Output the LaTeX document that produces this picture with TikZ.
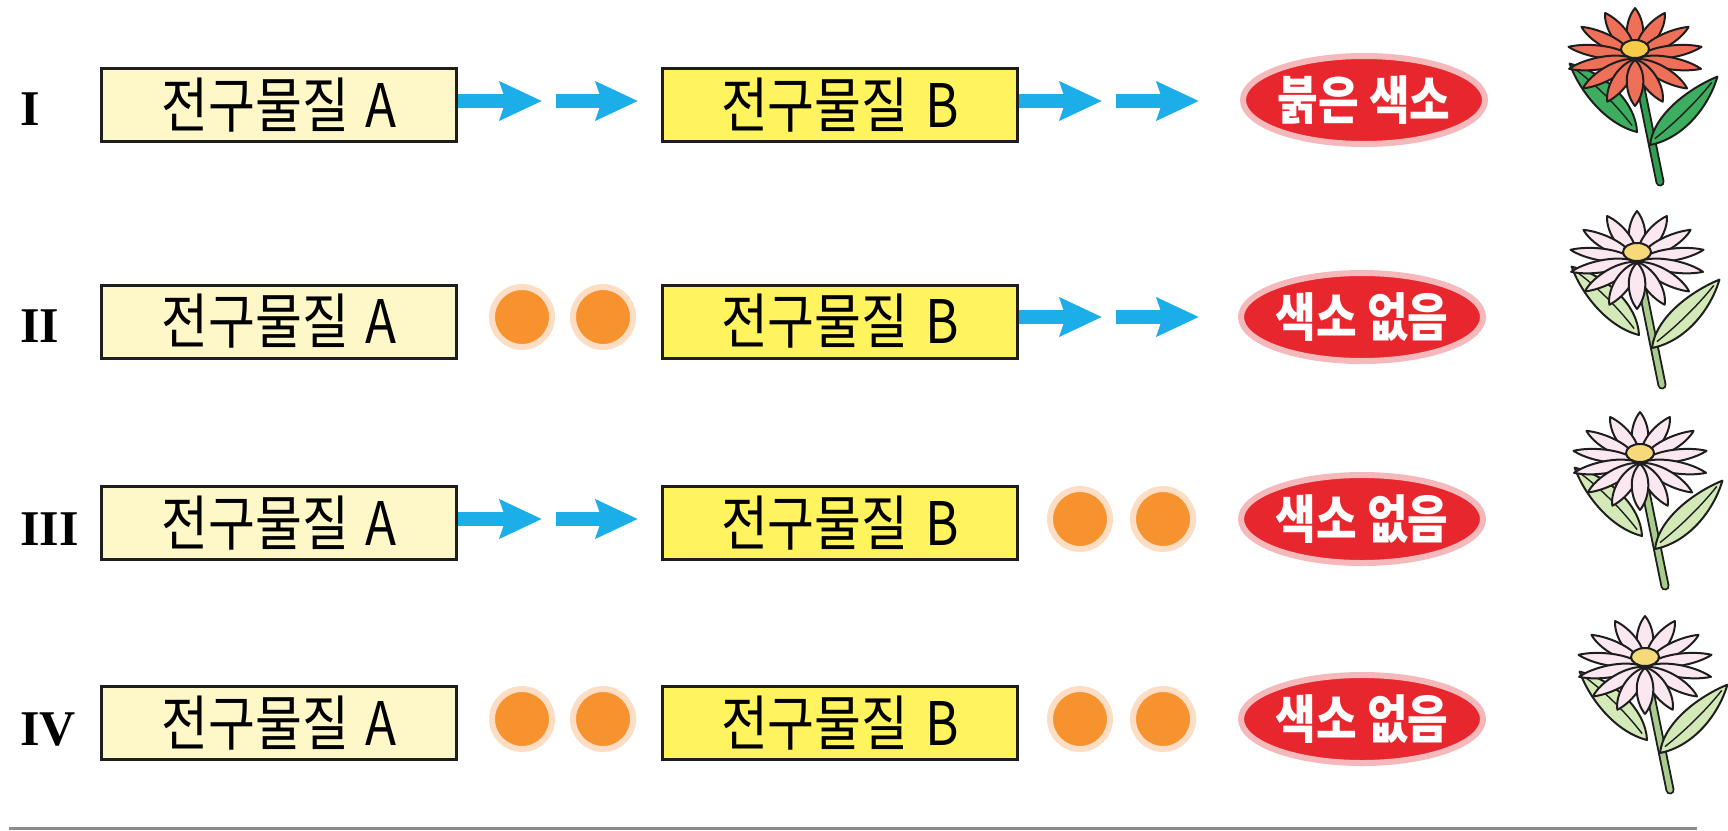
\documentclass[tikz,border=0pt]{standalone}
\usepackage{fontspec}
\setmainfont{Liberation Serif}
\newfontfamily\kr[FakeStretch=0.85]{Noto Sans CJK KR}
\usetikzlibrary{arrows.meta,shapes.geometric}

\definecolor{paleA}{HTML}{FEF8C8}
\definecolor{yelB}{HTML}{FFF35E}
\definecolor{pigred}{HTML}{E8262D}
\definecolor{pighalo}{HTML}{F6B9BB}
\definecolor{flowblue}{HTML}{1BAEE9}
\definecolor{blockor}{HTML}{F7932F}
\definecolor{blockhalo}{HTML}{FDDEC4}
\definecolor{inkline}{HTML}{1E1E1E}
% red daisy
\definecolor{redpetal}{HTML}{EF7058}
\definecolor{redheart}{HTML}{F7CB4A}
\definecolor{redleaf}{HTML}{3DAE5F}
\definecolor{redstem}{HTML}{2F9E4E}
% colourless daisy
\definecolor{palepetal}{HTML}{FAE7F0}
\definecolor{paleheart}{HTML}{F6DA7A}
\definecolor{paleleaf}{HTML}{D4E9B8}
\definecolor{palestem}{HTML}{A9CB8E}

\newcommand\gap{\hspace{0.28em}}

\tikzset{
  precbox/.style={draw=inkline, line width=1.5pt, minimum width=177.5pt,
    minimum height=36.5pt, inner sep=0pt, font=\kr\fontsize{30}{34}\selectfont},
  precA/.style={precbox, fill=paleA},
  precB/.style={precbox, fill=yelB},
  pigment/.style={ellipse, fill=pigred, draw=pighalo, line width=3pt,
    minimum width=121pt, minimum height=44pt, inner sep=0pt,
    label={[pigtext]center:#1}},
  pigtext/.style={text=white, inner sep=0pt,
    font=\kr\bfseries\fontsize{26}{30}\selectfont},
  blocker/.style={circle, fill=blockor, draw=blockhalo, line width=3pt,
    minimum size=30pt, inner sep=0pt},
  flowarrow/.style={draw=flowblue, line width=7pt,
    -{Stealth[length=21pt,width=19pt,inset=3pt]}},
  numeral/.style={anchor=base west, inner sep=0pt,
    font=\bfseries\fontsize{25}{28}\selectfont},
  petalline/.style={draw=inkline, line width=1pt, line join=round},
}

% a daisy: #1,#2 heart position, #3 petal, #4 heart, #5 leaf, #6 stem colour
\newcommand\drawdaisy[6]{%
  \begin{scope}[shift={(#1,#2)}]
    % stem
    \draw[inkline, line width=4.5pt, line cap=round] (0,10) -- (25,133);
    \draw[#6, line width=2.6pt, line cap=round] (0,10) -- (25,133);
    % left leaf
    \begin{scope}[shift={(2,83)}, rotate=134.6]
      \filldraw[petalline, fill=#5] (0,0) .. controls (22,20) and (65,19) .. (96,0)
        .. controls (70,-12) and (28,-17) .. (0,0) -- cycle;
      \draw[inkline, line width=0.7pt] (8,1) .. controls (40,5) and (70,3) .. (88,0);
    \end{scope}
    % right leaf
    \begin{scope}[shift={(15,96)}, rotate=45.4]
      \filldraw[petalline, fill=#5] (0,0) .. controls (28,19) and (68,15) .. (96,0)
        .. controls (68,-12) and (24,-19) .. (0,0) -- cycle;
      \draw[inkline, line width=0.7pt] (8,-1) .. controls (40,3) and (70,2) .. (88,0);
    \end{scope}
    % petals, back row first
    \foreach \a in {90,64,116,38,142,12,168,346,194,320,220,294,246,270}{
      \begin{scope}[shift={(0,8)}, yscale=0.72, rotate=\a]
        \filldraw[petalline, fill=#3] (4,0) .. controls (20,12.5) and (52,9.5) .. (68,0)
          .. controls (52,-9.5) and (20,-12.5) .. (4,0) -- cycle;
      \end{scope}
    }
    % heart
    \filldraw[petalline, fill=#4] (0,0) ellipse [x radius=14, y radius=9];
  \end{scope}%
}

\begin{document}
\begin{tikzpicture}[x=0.5pt, y=-0.5pt]
  \useasboundingbox (0,0) rectangle (1728,830);

  % ---------- row I ----------
  \node[numeral] (n1) at (20,125) {I};
  \node[precA] (A1) at (279,105) {전구물질\gap A};
  \node[precB] (B1) at (840,105) {전구물질\gap B};
  \node[pigment={붉은 색소}] (P1) at (1364,100) {};
  \coordinate (r1e1) at (542,101);
  \coordinate (r1s2) at (556,101);
  \coordinate (r1e2) at (638,101);
  \coordinate (r1e3) at (1102,101);
  \coordinate (r1s4) at (1116,101);
  \coordinate (r1e4) at (1199,101);
  \draw[flowarrow] (A1.east |- r1e1) -- (r1e1);
  \draw[flowarrow] (r1s2) -- (r1e2);
  \draw[flowarrow] (B1.east |- r1e3) -- (r1e3);
  \draw[flowarrow] (r1s4) -- (r1e4);
  \drawdaisy{1635}{49}{redpetal}{redheart}{redleaf}{redstem}

  % ---------- row II ----------
  \node[numeral] (n2) at (20,342) {II};
  \node[precA] (A2) at (279,321.5) {전구물질\gap A};
  \node[precB] (B2) at (840,321.5) {전구물질\gap B};
  \node[pigment={색소 없음}] (P2) at (1362,317) {};
  \node[blocker] (k2a) at (522,317) {};
  \node[blocker] (k2b) at (603,317) {};
  \coordinate (r2e3) at (1102,317);
  \coordinate (r2s4) at (1116,317);
  \coordinate (r2e4) at (1199,317);
  \draw[flowarrow] (B2.east |- r2e3) -- (r2e3);
  \draw[flowarrow] (r2s4) -- (r2e4);
  \drawdaisy{1637}{252}{palepetal}{paleheart}{paleleaf}{palestem}

  % ---------- row III ----------
  \node[numeral] (n3) at (20,545) {III};
  \node[precA] (A3) at (279,523) {전구물질\gap A};
  \node[precB] (B3) at (840,523) {전구물질\gap B};
  \node[pigment={색소 없음}] (P3) at (1362,519) {};
  \coordinate (r3e1) at (542,519);
  \coordinate (r3s2) at (556,519);
  \coordinate (r3e2) at (638,519);
  \draw[flowarrow] (A3.east |- r3e1) -- (r3e1);
  \draw[flowarrow] (r3s2) -- (r3e2);
  \node[blocker] (k3a) at (1080,519) {};
  \node[blocker] (k3b) at (1163,519) {};
  \drawdaisy{1640}{453}{palepetal}{paleheart}{paleleaf}{palestem}

  % ---------- row IV ----------
  \node[numeral] (n4) at (20,745) {IV};
  \node[precA] (A4) at (279,723) {전구물질\gap A};
  \node[precB] (B4) at (840,723) {전구물질\gap B};
  \node[pigment={색소 없음}] (P4) at (1362,719) {};
  \node[blocker] (k4a) at (522,719) {};
  \node[blocker] (k4b) at (603,719) {};
  \node[blocker] (k4c) at (1080,719) {};
  \node[blocker] (k4d) at (1163,719) {};
  \drawdaisy{1645}{657}{palepetal}{paleheart}{paleleaf}{palestem}

  % rule along the foot
  \draw[black!45, line width=1.5pt] (9,828) -- (1697,828);
\end{tikzpicture}
\end{document}
